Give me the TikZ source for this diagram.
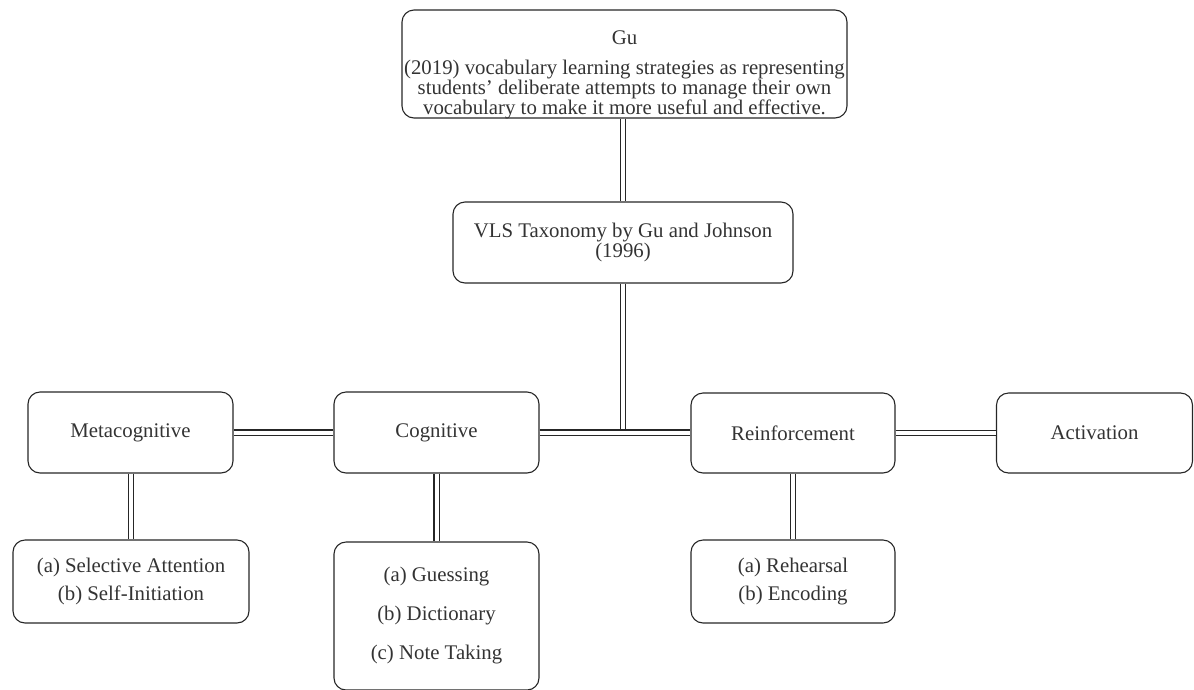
\documentclass[tikz,border=0pt]{standalone}
\usepackage{fontspec}
\setmainfont{Liberation Serif}
\begin{document}
\begin{tikzpicture}[x=1pt,y=-1pt,
  box/.style={draw=black!85, line width=1.1pt, rounded corners=12pt, inner sep=0pt},
  txt/.style={text=black!80, align=center, font=\fontsize{20.8}{20}\selectfont, inner sep=0pt},
  dbl/.style={draw=black!85, line width=1.3pt, double=white, double distance=4pt}]
\clip (0,0) rectangle (1194,689);
\useasboundingbox (0,0) rectangle (1194,689);
% boxes
\node[box, minimum width=445pt, minimum height=108pt] (gu) at (624.5,64) {};
\node[txt] (gutxt) at (624.5,74.5) {Gu\\[10pt](2019) vocabulary learning strategies as representing\\students' deliberate attempts to manage their own\\vocabulary to make it more useful and effective.};
\node[box, txt, minimum width=340pt, minimum height=81pt] (vls) at (623,242.5) {VLS Taxonomy by Gu and Johnson\\(1996)};
\node[box, txt, minimum width=205pt, minimum height=81pt] (meta) at (130.5,432.5) {Metacognitive};
\node[box, txt, minimum width=205pt, minimum height=81pt] (cog) at (436.5,432.5) {Cognitive};
\node[box, txt, minimum width=204pt, minimum height=80pt] (reinf) at (793,433) {Reinforcement};
\node[box, txt, minimum width=196pt, minimum height=80pt] (act) at (1094.5,433) {Activation};
\node[box, txt, minimum width=236pt, minimum height=83pt] (sel) at (131,581.5) {(a) Selective Attention\\[8pt](b) Self-Initiation};
\node[box, txt, minimum width=205pt, minimum height=148pt] (cogsub) at (436.5,616) {(a) Guessing\\[19pt](b) Dictionary\\[19pt](c) Note Taking};
\node[box, txt, minimum width=204pt, minimum height=83pt] (reinfsub) at (793,581.5) {(a) Rehearsal\\[8pt](b) Encoding};
% connectors
\coordinate (junc) at (623,433);
\draw[dbl] (vls.north |- gu.south) -- (vls.north);
\draw[dbl] (vls.south) -- (junc);
\draw[dbl] (cog.east) -- (reinf.west |- cog.east);
\draw[dbl] (meta.east) -- (cog.west);
\draw[dbl] (reinf.east) -- (act.west);
\draw[dbl] (meta.south -| sel.north) -- (sel.north);
\draw[dbl] (cog.south) -- (cogsub.north);
\draw[dbl] (reinf.south) -- (reinfsub.north);
\end{tikzpicture}
\end{document}
